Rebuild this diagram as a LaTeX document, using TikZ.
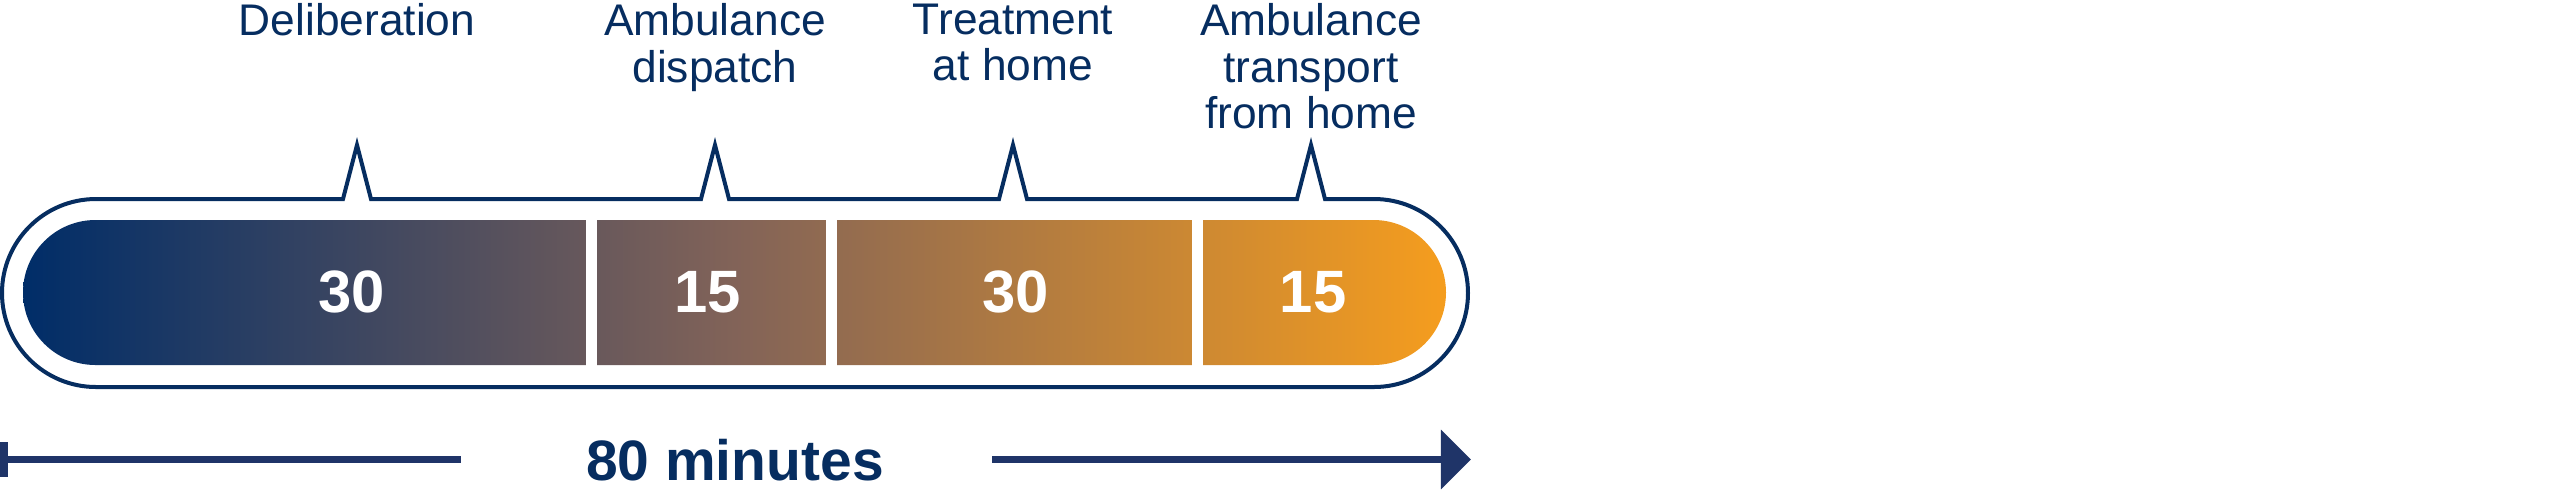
\documentclass[tikz,border=0pt]{standalone}
\usepackage{fontspec}
\setmainfont{Liberation Sans}
\usetikzlibrary{arrows.meta,positioning}
\definecolor{navy}{RGB}{6,45,96}
\definecolor{arrowblue}{RGB}{31,52,104}
\definecolor{barstart}{RGB}{0,45,104}
\definecolor{barmid}{RGB}{130,99,88}
\definecolor{barend}{RGB}{245,157,30}

\begin{document}
\begin{tikzpicture}[
  x=0.01cm, y=-0.01cm,
  lbl/.style={anchor=north, align=center, inner sep=0pt, text=navy, font=\fontsize{12.6}{13.2}\selectfont},
  num/.style={inner sep=0pt, text=white, font=\fontsize{17}{17}\selectfont\bfseries},
  total/.style={inner sep=0pt, text=navy, font=\fontsize{16.2}{16.2}\selectfont\bfseries},
  outline/.style={draw=navy, line width=0.04cm},
  gap/.style={fill=white},
  timeline/.style={draw=arrowblue, line width=0.07cm}
]
\useasboundingbox (0,0) rectangle (2553,490);
% gradient bar
\shade[left color=barstart, right color=barend, middle color=barmid]
  (95.5,365) arc[start angle=90, end angle=270, radius=72.5]
  -- (1373.5,220) arc[start angle=-90, end angle=90, radius=72.5] -- cycle;
\fill[gap] (586,214) rectangle (597,371);
\fill[gap] (826,214) rectangle (837,371);
\fill[gap] (1192,214) rectangle (1203,371);
% capsule with ticks
\draw[outline] (96,387) arc[start angle=90, end angle=270, radius=94]
  -- (343,199) -- (357,145) -- (371,199)
  -- (701,199) -- (715,145) -- (729,199)
  -- (999,199) -- (1013,145) -- (1027,199)
  -- (1297,199) -- (1311,145) -- (1325,199)
  -- (1374,199) arc[start angle=-90, end angle=90, radius=94] -- cycle;
% steps
\node[lbl] (delib) at (357,3) {Deliberation};
\node[lbl] (dispatch) at (715,3) {Ambulance\\dispatch};
\node[lbl] (treat) at (1013,3) {Treatment\\at home};
\node[lbl] (transport) at (1311,3) {Ambulance\\transport\\from home};
\node[num] (delibmin) at (352,292) {30};
\node[num] (dispatchmin) at (708,292) {15};
\node[num] (treatmin) at (1016,292) {30};
\node[num] (transportmin) at (1313,292) {15};
% total
\node[total] (mins) at (735,460) {80 minutes};
\coordinate (lstart) at (0,459.5);
\coordinate (lend) at (461,459.5);
\coordinate (rstart) at (992,459.5);
\coordinate (rend) at (1471,459.5);
\draw[timeline, {Rectangle[length=0.08cm, width=0.35cm]}-] (lstart) -- (lend);
\draw[timeline, -{Triangle[length=0.3cm, width=0.58cm]}] (rstart) -- (rend);
\end{tikzpicture}
\end{document}
